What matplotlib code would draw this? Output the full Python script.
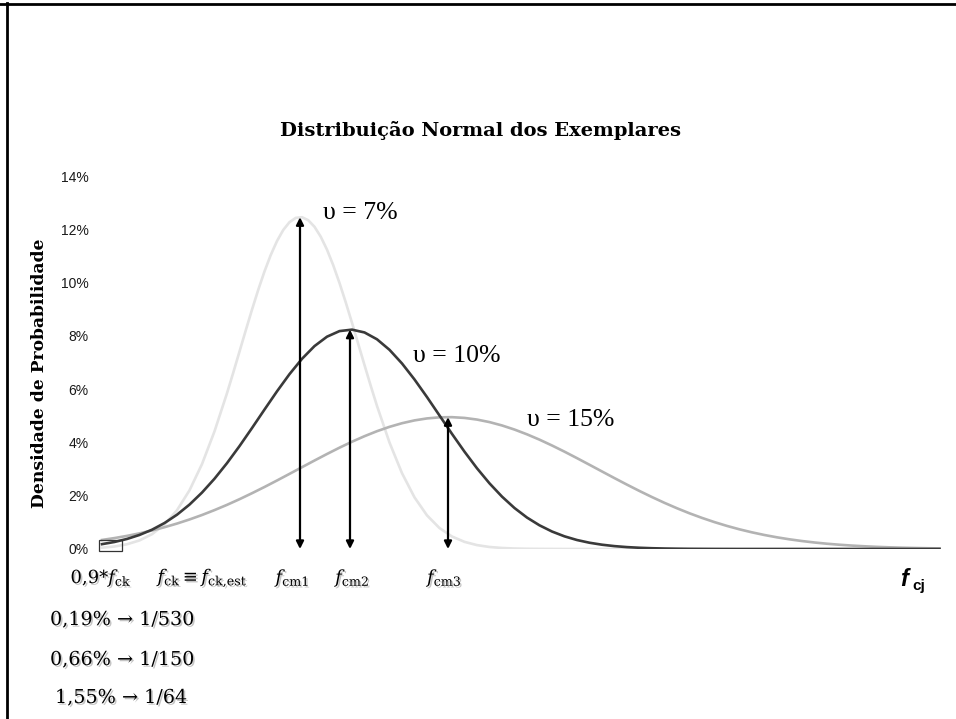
import numpy as np
import matplotlib
matplotlib.use("Agg")
import matplotlib.pyplot as plt
import matplotlib.patheffects as pe
from matplotlib.patches import Rectangle
from matplotlib.lines import Line2D

# eixo x (MPa) - amostras de 0,5 em 0,5
fcj = np.arange(26, 60, 0.5)
# curva de 7% tem pico estreito: amostras de 0,25 entre 31 e 37
fcj_v7 = np.concatenate([np.arange(26, 31, 0.5), np.arange(31, 37, 0.25),
                         np.arange(37, 60, 0.5)])

# densidade (%)
dens_v7 = [0.048, 0.094, 0.178, 0.322, 0.556, 0.920, 1.455, 2.202, 3.187, 4.415,
           5.847, 6.619, 7.411, 8.205, 8.984, 9.729, 10.419, 11.035, 11.559, 11.974,
           12.267, 12.428, 12.453, 12.340, 12.094, 11.721, 11.235, 10.650, 9.984, 9.257,
           8.489, 7.697, 6.903, 6.123,
           5.370, 3.997, 2.846, 1.938, 1.262, 0.786, 0.469, 0.268, 0.146, 0.076,
           0.038, 0.018, 0.008, 0.004, 0.002,
           0, 0, 0, 0, 0, 0, 0, 0, 0, 0, 0, 0, 0, 0, 0, 0, 0, 0, 0, 0,
           0, 0, 0, 0, 0, 0, 0, 0, 0, 0, 0]
dens_v10 = [0.182, 0.264, 0.377, 0.528, 0.724, 0.975, 1.287, 1.667, 2.118, 2.638,
            3.223, 3.862, 4.540, 5.234, 5.918, 6.563, 7.138, 7.616, 7.969, 8.179,
            8.233, 8.128, 7.871, 7.476, 6.964, 6.363, 5.702, 5.011, 4.320, 3.653,
            3.029, 2.464, 1.966, 1.538, 1.180, 0.889, 0.656, 0.475, 0.337, 0.235,
            0.161, 0.108, 0.071, 0.046, 0.029, 0.018, 0.011, 0.006, 0.004, 0.002,
            0.001,
            0, 0, 0, 0, 0, 0, 0, 0, 0, 0, 0, 0, 0, 0, 0, 0, 0]
dens_v15 = [0.339, 0.410, 0.492, 0.587, 0.695, 0.818, 0.955, 1.108, 1.276, 1.460,
            1.657, 1.869, 2.094, 2.328, 2.571, 2.820, 3.071, 3.321, 3.566, 3.803,
            4.027, 4.234, 4.422, 4.585, 4.721, 4.827, 4.901, 4.942, 4.948, 4.920,
            4.858, 4.763, 4.637, 4.483, 4.304, 4.104, 3.885, 3.653, 3.410, 3.161,
            2.910, 2.660, 2.415, 2.177, 1.949, 1.732, 1.529, 1.340, 1.167, 1.009,
            0.866, 0.738, 0.625, 0.525, 0.438, 0.363, 0.299, 0.244, 0.198, 0.160,
            0.128, 0.102, 0.080, 0.063, 0.049, 0.038, 0.029, 0.022]

fcm = [33.92, 35.92, 39.84]
yticks = [0, 2, 4, 6, 8, 10, 12, 14]
rotulos_v = ["\u03c5 = 7%", "\u03c5 = 10%", "\u03c5 = 15%"]
rotulos_prob = ["0,19% \u2192 1/530", "0,66% \u2192 1/150", "1,55% \u2192 1/64"]

plt.rcParams["mathtext.fontset"] = "custom"
plt.rcParams["mathtext.rm"] = "DejaVu Serif"
plt.rcParams["mathtext.it"] = "DejaVu Serif:italic"

W, H = 956, 719
fig = plt.figure(figsize=(W / 100, H / 100), dpi=100)
ax = fig.add_axes([97 / W, 1 - 549 / H, (942 - 97) / W, (549 - 176) / H])

ax.plot(fcj_v7, dens_v7, color="#e4e4e4", lw=1.9, zorder=2)
ax.plot(fcj, dens_v15, color="#b3b3b3", lw=1.9, zorder=3)
ax.plot(fcj, dens_v10, color="#3a3a3a", lw=1.9, zorder=4)

picos = [max(dens_v7), max(dens_v10), max(dens_v15)]
for x, p in zip(fcm, picos):
    ax.annotate("", xy=(x, p), xytext=(x, 0),
                arrowprops=dict(arrowstyle="<|-|>", color="black", lw=1.6,
                                mutation_scale=11, shrinkA=0, shrinkB=0),
                zorder=6)

ax.add_patch(Rectangle((25.9, -0.08), 0.9, 0.42, facecolor="none",
                       edgecolor="#333333", lw=0.9, zorder=5, clip_on=False))

ax.set_xlim(25.8, 59.6)
ax.set_ylim(0, 14)
ax.set_yticks(yticks)
ax.set_yticklabels([f"{v}%" for v in yticks], family="Liberation Sans",
                   fontsize=10, color="#1a1a1a")
ax.tick_params(axis="y", length=0, pad=6)
ax.set_xticks([])
for s in ax.spines.values():
    s.set_visible(False)

# rotulos das curvas
caixa = dict(facecolor="white", edgecolor="none", alpha=0.55, pad=1)
ax.text(34.84, 12.61, rotulos_v[0], family="Liberation Serif", fontsize=18.5,
        va="center", ha="left", zorder=7)
ax.text(38.44, 7.24, rotulos_v[1], family="Liberation Serif", fontsize=18.5,
        va="center", ha="left", zorder=7, bbox=caixa)
ax.text(43.0, 4.84, rotulos_v[2], family="Liberation Serif", fontsize=18.5,
        va="center", ha="left", zorder=7, bbox=caixa)

def ft(x, y, s, **kw):
    fig.text(x / W, 1 - y / H, s, **kw)

sombra = [pe.SimplePatchShadow(offset=(1.2, -1.2), shadow_rgbFace="0.55", alpha=0.5),
          pe.Normal()]

ft(480, 130, "Distribui\u00e7\u00e3o Normal dos Exemplares", family="DejaVu Serif",
   weight="bold", fontsize=14, ha="center", va="center")
ft(40, 373, "Densidade de Probabilidade", family="DejaVu Serif", weight="bold",
   fontsize=12.3, ha="center", va="center", rotation=90)

lab = dict(fontsize=13, ha="center", va="center", path_effects=sombra)
ft(101, 578, r"$\mathrm{0{,}9{*}}\mathit{f}_{\mathrm{ck}}$", **lab)
ft(203, 578, r"$\mathit{f}_{\mathrm{ck}}\equiv\mathit{f}_{\mathrm{ck{,}est}}$", **lab)
ft(293, 578, r"$\mathit{f}_{\mathrm{cm1}}$", **lab)
ft(353, 578, r"$\mathit{f}_{\mathrm{cm2}}$", **lab)
ft(445, 578, r"$\mathit{f}_{\mathrm{cm3}}$", **lab)

ft(900, 580, "f", family="Liberation Sans", weight="bold", style="italic",
   fontsize=17, ha="left", va="center")
ft(912, 586, "cj", family="Liberation Sans", weight="bold",
   fontsize=11, ha="left", va="center")

for yy, s in zip([620, 660, 698], rotulos_prob):
    ft(50 if yy < 690 else 55, yy, s, family="DejaVu Serif", fontsize=13.8,
       ha="left", va="center", path_effects=sombra)

# moldura
fig.add_artist(Line2D([0, 1], [1 - 4 / H, 1 - 4 / H], color="black", lw=2))
fig.add_artist(Line2D([7 / W, 7 / W], [0, 1 - 3 / H], color="black", lw=2))

fig.savefig("out.png", dpi=100, facecolor="white")
